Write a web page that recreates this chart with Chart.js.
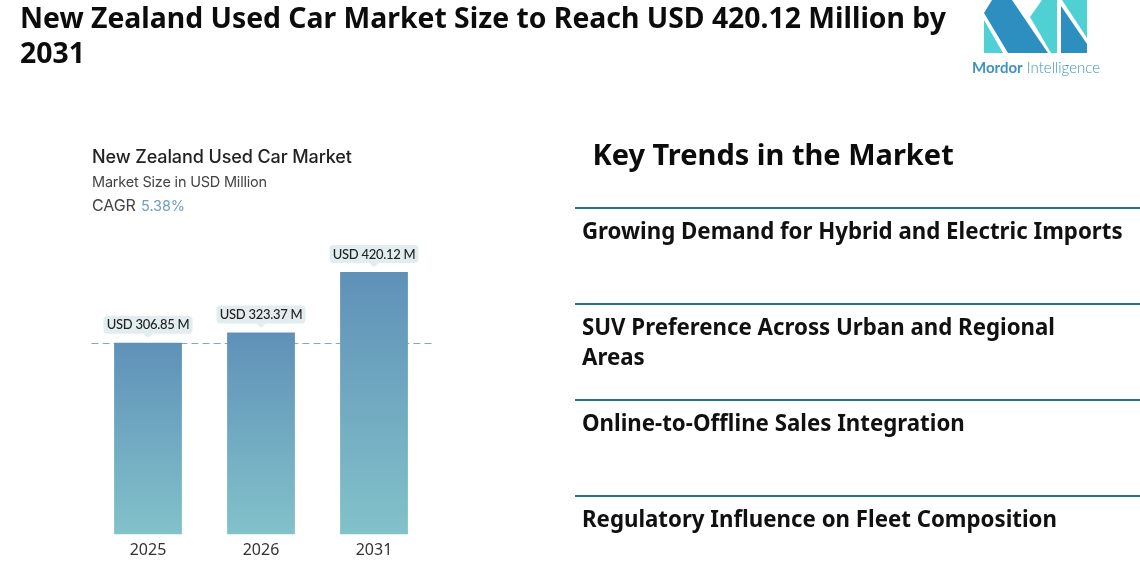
<!DOCTYPE html>
<html>
<head>
<meta charset="utf-8">
<script src="https://cdn.jsdelivr.net/npm/chart.js@4"></script>
<style>
  html, body { margin: 0; padding: 0; background: #fff; }
  body { position: relative; width: 1140px; height: 570px; overflow: hidden; font-family: "Noto Sans", sans-serif; color: #111; }
  #myChart { position: absolute; left: 0; top: 0; }
  .txt { position: absolute; white-space: nowrap; }
  #title { left: 20px; top: 0; font-size: 28.35px; font-weight: 700; line-height: 35px; white-space: pre-line; color: #0c0c0c; }
  #chartTitle { left: 92px; top: 145px; font: 500 18px/24px Inter, sans-serif; color: #222; letter-spacing: -0.1px; }
  #chartSub { left: 92px; top: 172px; font: 400 14.5px/20px Inter, sans-serif; color: #444; letter-spacing: -0.2px; }
  #cagr { left: 92px; top: 195px; font: 400 16px/20px Inter, sans-serif; color: #444; letter-spacing: -0.1px; }
  #cagr span { color: #6c9dc4; font-size: 14.5px; margin-left: 1px; }
  #keyHead { left: 592.5px; top: 134px; font-size: 29px; font-weight: 700; line-height: 40px; color: #0c0c0c; }
  .rule { position: absolute; left: 575px; width: 565px; height: 2px; background: #2a7099; }
  .trend { position: absolute; left: 582px; width: 550px; font-size: 22.25px; font-weight: 700; line-height: 30px; color: #111; }
  #logo { position: absolute; left: 972px; top: 0; }
  #logoText { left: 972px; top: 57px; font-family: Lato, sans-serif; font-size: 15px; line-height: 20px; color: #3f93c2; }
  #logoText b { font-weight: 700; }
  #logoText span { font-weight: 300; }
</style>
</head>
<body>
<canvas id="myChart" width="1140" height="570"></canvas>

<div class="txt" id="title"></div>
<div class="txt" id="chartTitle"></div>
<div class="txt" id="chartSub"></div>
<div class="txt" id="cagr"></div>
<div class="txt" id="keyHead"></div>
<div id="trendBox"></div>

<svg id="logo" width="130" height="56" viewBox="0 0 130 56">
  <polygon points="12,20 12,53 31,53" fill="#4fd0d2"/>
  <polygon points="12,13 20,0 40,0 76,53 36,53" fill="#2d8fc0"/>
  <polygon points="58,17 70,0 85,0 85,53 79,53" fill="#4fd0d2"/>
  <polygon points="90,0 115,0 115,38" fill="#4fd0d2"/>
  <polygon points="89,6 115,44 115,53 89,53" fill="#2d8fc0"/>
</svg>
<div class="txt" id="logoText"><b>Mordor</b><span> Intelligence</span></div>

<script>
const reportTitle = "New Zealand Used Car Market Size to Reach USD 420.12 Million by\n2031";
const chartTitle = "New Zealand Used Car Market";
const chartSub = "Market Size in USD Million";
const cagrValue = "5.38%";
const keyHead = "Key Trends in the Market";

const years = ["2025", "2026", "2031"];
const marketSize = [306.85, 323.37, 420.12];
const trends = [
  "Growing Demand for Hybrid and Electric Imports",
  "SUV Preference Across Urban and Regional\nAreas",
  "Online-to-Offline Sales Integration",
  "Regulatory Influence on Fleet Composition",
];

document.getElementById("title").textContent = reportTitle;
document.getElementById("chartTitle").textContent = chartTitle;
document.getElementById("chartSub").textContent = chartSub;
document.getElementById("cagr").innerHTML = "CAGR <span>" + cagrValue + "</span>";
document.getElementById("keyHead").textContent = keyHead;

// rules and headings on the right, one block every 96px
const box = document.getElementById("trendBox");
trends.forEach((t, i) => {
  const rule = document.createElement("div");
  rule.className = "rule";
  rule.style.top = 207 + i * 96 + "px";
  box.appendChild(rule);
  const el = document.createElement("div");
  el.className = "trend";
  el.style.top = 216 + i * 96 + "px";
  el.style.whiteSpace = "pre-line";
  el.textContent = t;
  box.appendChild(el);
});

// dashed line at first value + callouts above the bars
const annotate = {
  id: "annotate",
  afterDatasetsDraw(chart) {
    const c = chart.ctx;
    const y = chart.scales.y.getPixelForValue(marketSize[0]);
    const area = chart.chartArea;
    c.save();
    c.strokeStyle = "#84a8bd";
    c.lineWidth = 1;
    c.setLineDash([7, 4.1]);
    // only in the gaps, the bars sit over the line
    c.globalCompositeOperation = "destination-over";
    c.beginPath();
    c.moveTo(area.left, Math.round(y) + 0.5);
    c.lineTo(area.right + 2, Math.round(y) + 0.5);
    c.stroke();
    c.restore();

    c.save();
    c.font = "500 13px Lato, sans-serif";
    c.letterSpacing = "-0.3px";
    c.textAlign = "center";
    c.textBaseline = "middle";
    chart.getDatasetMeta(0).data.forEach((bar, i) => {
      const w = 89, h = 18;
      const top = bar.y - 27;
      c.fillStyle = "#e2edef";
      c.beginPath();
      c.roundRect(bar.x - w / 2, top, w, h, 4);
      c.fill();
      c.beginPath();
      c.moveTo(bar.x - 5, top + h);
      c.lineTo(bar.x + 5, top + h);
      c.lineTo(bar.x, top + h + 4);
      c.closePath();
      c.fill();
      c.fillStyle = "#222";
      c.fillText("USD " + marketSize[i].toFixed(2) + " M", bar.x, top + h / 2 + 0.5);
    });
    c.restore();
  },
};

new Chart(document.getElementById("myChart").getContext("2d"), {
  type: "bar",
  data: {
    labels: years,
    datasets: [
      {
        data: marketSize,
        barPercentage: 0.6,
        categoryPercentage: 1,
        backgroundColor: (ctx) => {
          const chart = ctx.chart;
          if (!chart.chartArea) return "#6fa8c0";
          const s = chart.scales.y;
          const v = ctx.parsed ? ctx.parsed.y : marketSize[ctx.dataIndex];
          const g = chart.ctx.createLinearGradient(0, s.getPixelForValue(v), 0, s.getPixelForValue(0));
          g.addColorStop(0, "#5f91b8");
          g.addColorStop(1, "#82c2ca");
          return g;
        },
      },
    ],
  },
  options: {
    responsive: false,
    animation: false,
    layout: { padding: { left: 91.5, right: 709.5, top: 240.75, bottom: 0 } },
    plugins: { legend: { display: false }, tooltip: { enabled: false }, title: { display: false } },
    scales: {
      x: {
        grid: { display: false, drawTicks: false },
        border: { display: false },
        afterFit: (scale) => { scale.height = 35.5; },
        ticks: { color: "#333", font: { family: "Noto Sans", size: 16 }, padding: 6.5 },
      },
      y: { display: false, min: 0, max: 470 },
    },
  },
  plugins: [annotate],
});
</script>
</body>
</html>
